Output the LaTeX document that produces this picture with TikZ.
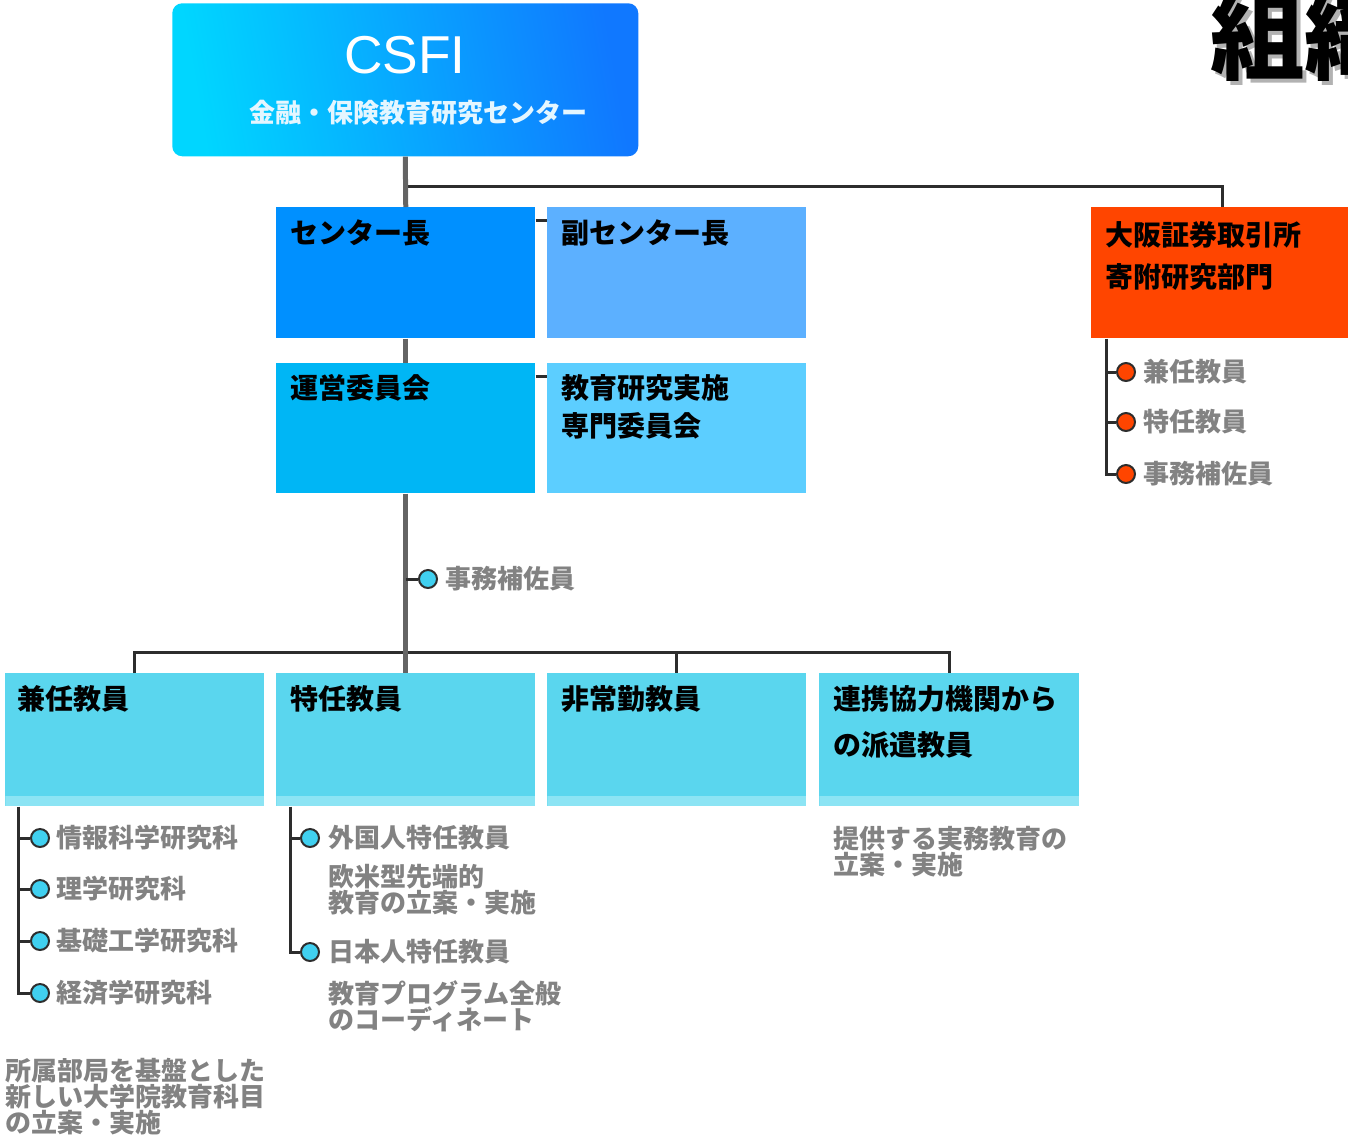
\documentclass[tikz,border=0pt]{standalone}
\usepackage{fontspec}
\setmainfont{Noto Sans CJK JP}
\newfontfamily\latinfont{Liberation Sans}
\usetikzlibrary{calc}
\definecolor{csfiA}{RGB}{0,214,255}
\definecolor{csfiB}{RGB}{16,120,255}
\definecolor{chiefC}{RGB}{0,144,255}
\definecolor{viceC}{RGB}{92,176,255}
\definecolor{uneiC}{RGB}{0,182,245}
\definecolor{kyoC}{RGB}{92,206,255}
\definecolor{facC}{RGB}{90,214,238}
\definecolor{facL}{RGB}{140,228,244}
\definecolor{oraC}{RGB}{255,69,0}
\definecolor{lineG}{RGB}{100,100,100}
\definecolor{lineD}{RGB}{45,45,45}
\definecolor{grayT}{RGB}{130,130,130}
\definecolor{bulC}{RGB}{64,208,240}
\definecolor{subT}{RGB}{228,246,255}
\begin{document}
\begin{tikzpicture}[x=0.75pt,y=-0.75pt,
  box/.style={draw=none, inner sep=0pt, anchor=north west, minimum width=194.25pt, minimum height=98.25pt},
  facbox/.style={box, fill=facC, minimum height=99.75pt,
    path picture={\fill[facL] (path picture bounding box.south west) rectangle ([yshift=8pt]path picture bounding box.south east);}},
  lbl/.style={anchor=base west, inner sep=0pt, align=left, text=black, font=\fontsize{21}{28.5}\selectfont\bfseries},
  gtxt/.style={anchor=west, inner sep=0pt, text=grayT, font=\fontsize{19.5}{19.5}\selectfont\bfseries},
  desc/.style={anchor=base west, inner sep=0pt, align=left, text=grayT, font=\fontsize{19.5}{19.5}\selectfont\bfseries},
  bul/.style={circle, draw=lineD, line width=1.5pt, fill=bulC, minimum size=13.5pt, inner sep=0pt},
  obul/.style={bul, fill=oraC},
  gline/.style={draw=lineG, line width=3.75pt},
  dline/.style={draw=lineD, line width=2.25pt}]
\useasboundingbox (0,0) rectangle (1348,1140);
\begin{scope}
\clip (0,0) rectangle (1348,1140);

% title
\node[anchor=base west, inner sep=0pt, text=black!30, font=\fontsize{71}{71}\selectfont\bfseries] (titleS) at (1214,76) {組織図};
\node[anchor=base west, inner sep=0pt, text=black, font=\fontsize{71}{71}\selectfont\bfseries] (title) at (1210,72) {組織図};

% CSFI
\node[draw=none, rounded corners=7.5pt, left color=csfiA, right color=csfiB, shading angle=100, minimum width=349.5pt, minimum height=114.75pt, anchor=north west, inner sep=0pt] (csfi) at (172,3) {};
\node[text=white, inner sep=0pt, font=\latinfont\fontsize{40}{40}\selectfont] (csfiT) at (405,55) {CSFI};
\node[text=subT, inner sep=0pt, font=\fontsize{19.5}{19.5}\selectfont\bfseries] (csfiS) at (418,113) {金融・保険教育研究センター};

% boxes
\node[box, fill=chiefC] (chief) at (276,207) {};
\node[box, fill=viceC] (vice) at (547,207) {};
\node[box, fill=uneiC, minimum height=97.5pt] (unei) at (276,363) {};
\node[box, fill=kyoC, minimum height=97.5pt] (kyo) at (547,363) {};
\node[box, fill=oraC, minimum width=196.5pt] (osaka) at (1091,207) {};
\node[facbox] (kennin) at (5,673) {};
\node[facbox] (tokunin) at (276,673) {};
\node[facbox] (hijo) at (547,673) {};
\node[facbox, minimum width=195pt] (renkei) at (819,673) {};

% labels (base west = baseline of the last line)
\node[lbl] (chiefL) at ($(chief.north west)+(14,36)$) {センター長};
\node[lbl] (viceL) at ($(vice.north west)+(14,36)$) {副センター長};
\node[lbl] (uneiL) at ($(unei.north west)+(14,35)$) {運営委員会};
\node[lbl] (kyoL) at ($(kyo.north west)+(14,73)$) {教育研究実施\\専門委員会};
\node[lbl, font=\fontsize{21}{31.5}\selectfont\bfseries] (osakaL) at ($(osaka.north west)+(14,80)$) {大阪証券取引所\\寄附研究部門};
\node[lbl] (kenninL) at ($(kennin.north west)+(12,36)$) {兼任教員};
\node[lbl] (tokuninL) at ($(tokunin.north west)+(14,36)$) {特任教員};
\node[lbl] (hijoL) at ($(hijo.north west)+(14,36)$) {非常勤教員};
\node[lbl, font=\fontsize{21}{34.5}\selectfont\bfseries] (renkeiL) at ($(renkei.north west)+(14,82)$) {連携協力機関から\\の派遣教員};

% connectors (dark)
\coordinate (j1) at (406,186);
\draw[dline] (j1) -| (osaka.north);
\draw[dline] ($(chief.north east)+(0,13)$) -- ($(vice.north west)+(0,13)$);
\draw[dline] ($(unei.north east)+(0,13)$) -- ($(kyo.north west)+(0,13)$);
\coordinate (j2) at (406,652);
\draw[dline] (kennin.north) |- (j2) -| (renkei.north);
\draw[dline] (j2 -| hijo.north) -- (hijo.north);

% main gray line
\draw[gline] (csfi.south) -- (chief.north);
\draw[gline] (chief.south) -- (unei.north);
\draw[gline] (unei.south) -- (tokunin.north);

% office assistant
\node[bul] (jb) at (428,579) {};
\draw[dline] (unei.south |- jb) -- (jb);
\node[gtxt] (jbT) at (445,579) {事務補佐員};

% Osaka sublist
\node[obul] (ob1) at (1126,372) {};
\node[obul] (ob2) at (1126,422) {};
\node[obul] (ob3) at (1126,474) {};
\coordinate (os) at ($(osaka.south west)+(15,0)$);
\draw[dline] (os) |- (ob3);
\draw[dline] (os |- ob1) -- (ob1);
\draw[dline] (os |- ob2) -- (ob2);
\node[gtxt] (ob1T) at (1143,372) {兼任教員};
\node[gtxt] (ob2T) at (1143,422) {特任教員};
\node[gtxt] (ob3T) at (1143,474) {事務補佐員};

% kennin sublist
\node[bul] (kb1) at (40,838) {};
\node[bul] (kb2) at (40,889) {};
\node[bul] (kb3) at (40,941) {};
\node[bul] (kb4) at (40,993) {};
\coordinate (ks) at ($(kennin.south west)+(13,0)$);
\draw[dline] (ks) |- (kb4);
\draw[dline] (ks |- kb1) -- (kb1);
\draw[dline] (ks |- kb2) -- (kb2);
\draw[dline] (ks |- kb3) -- (kb3);
\node[gtxt] (kb1T) at (56,838) {情報科学研究科};
\node[gtxt] (kb2T) at (56,889) {理学研究科};
\node[gtxt] (kb3T) at (56,941) {基礎工学研究科};
\node[gtxt] (kb4T) at (56,993) {経済学研究科};
\node[desc] (kD) at (5,1132) {所属部局を基盤とした\\新しい大学院教育科目\\の立案・実施};

% tokunin sublist
\node[bul] (tb1) at (310,838) {};
\node[bul] (tb2) at (310,952) {};
\coordinate (ts) at ($(tokunin.south west)+(14,0)$);
\draw[dline] (ts) |- (tb2);
\draw[dline] (ts |- tb1) -- (tb1);
\node[gtxt] (tb1T) at (328,838) {外国人特任教員};
\node[desc] (tb1D) at (328,912) {欧米型先端的\\教育の立案・実施};
\node[gtxt] (tb2T) at (328,952) {日本人特任教員};
\node[desc] (tb2D) at (328,1029) {教育プログラム全般\\のコーディネート};

% renkei description
\node[desc] (rD) at (833,874) {提供する実務教育の\\立案・実施};
\end{scope}
\end{tikzpicture}
\end{document}
